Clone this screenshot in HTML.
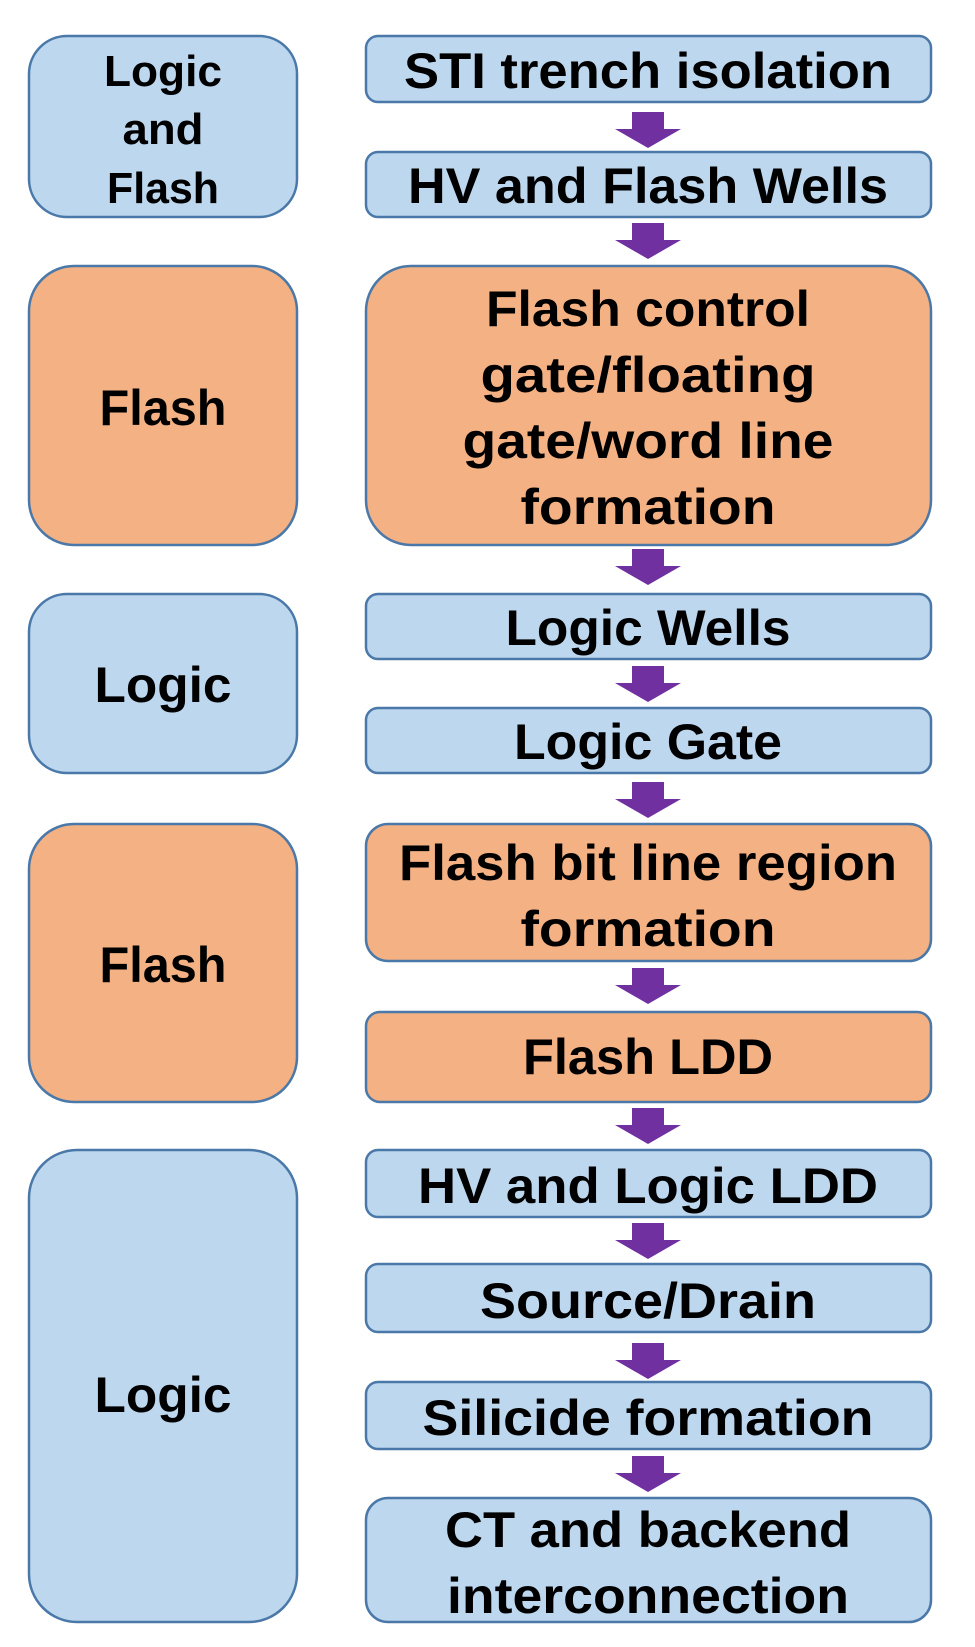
<!DOCTYPE html>
<html><head><meta charset="utf-8"><style>html,body{margin:0;padding:0;background:#fff}svg{display:block}text{font-family:"Liberation Sans",sans-serif;font-weight:bold;fill:#000;text-anchor:middle}</style></head>
<body>
<svg width="975" height="1647" viewBox="0 0 975 1647" xmlns="http://www.w3.org/2000/svg">
<defs>
<g id="arr"><path d="M-16,0 H16 V17 H33 L0,36 L-33,17 H-16 Z" fill="#7030a0"/></g>
</defs>
<g stroke="#4a78a8" stroke-width="2.5">
<rect x="29" y="36" width="268" height="181" rx="38" fill="#bdd7ee"/>
<rect x="29" y="266" width="268" height="279" rx="45" fill="#f4b183"/>
<rect x="29" y="594" width="268" height="179" rx="38" fill="#bdd7ee"/>
<rect x="29" y="824" width="268" height="278" rx="45" fill="#f4b183"/>
<rect x="29" y="1150" width="268" height="472" rx="48" fill="#bdd7ee"/>
<rect x="366" y="36" width="565" height="66" rx="12" fill="#bdd7ee"/>
<rect x="366" y="152" width="565" height="65" rx="12" fill="#bdd7ee"/>
<rect x="366" y="266" width="565" height="279" rx="45" fill="#f4b183"/>
<rect x="366" y="594" width="565" height="65" rx="12" fill="#bdd7ee"/>
<rect x="366" y="708" width="565" height="65" rx="12" fill="#bdd7ee"/>
<rect x="366" y="824" width="565" height="137" rx="22" fill="#f4b183"/>
<rect x="366" y="1012" width="565" height="90" rx="14" fill="#f4b183"/>
<rect x="366" y="1150" width="565" height="67" rx="12" fill="#bdd7ee"/>
<rect x="366" y="1264" width="565" height="68" rx="12" fill="#bdd7ee"/>
<rect x="366" y="1382" width="565" height="67" rx="12" fill="#bdd7ee"/>
<rect x="366" y="1498" width="565" height="124" rx="22" fill="#bdd7ee"/>
</g>
<use href="#arr" x="648" y="112"/>
<use href="#arr" x="648" y="223"/>
<use href="#arr" x="648" y="549"/>
<use href="#arr" x="648" y="666"/>
<use href="#arr" x="648" y="782"/>
<use href="#arr" x="648" y="968"/>
<use href="#arr" x="648" y="1108"/>
<use href="#arr" x="648" y="1223"/>
<use href="#arr" x="648" y="1343"/>
<use href="#arr" x="648" y="1456"/>
<g font-size="44">
<text x="163" y="86" textLength="118" lengthAdjust="spacingAndGlyphs">Logic</text>
<text x="163" y="144" textLength="81" lengthAdjust="spacingAndGlyphs">and</text>
<text x="163" y="203" textLength="112" lengthAdjust="spacingAndGlyphs">Flash</text>
</g>
<g font-size="50">
<text x="163" y="425" textLength="127" lengthAdjust="spacingAndGlyphs">Flash</text>
<text x="163" y="702" textLength="137" lengthAdjust="spacingAndGlyphs">Logic</text>
<text x="163" y="982" textLength="127" lengthAdjust="spacingAndGlyphs">Flash</text>
<text x="163" y="1412" textLength="137" lengthAdjust="spacingAndGlyphs">Logic</text>
</g>
<g font-size="50">
<text x="648" y="88" textLength="488" lengthAdjust="spacingAndGlyphs">STI trench isolation</text>
<text x="648" y="203" textLength="480" lengthAdjust="spacingAndGlyphs">HV and Flash Wells</text>
<text x="648" y="326" textLength="324" lengthAdjust="spacingAndGlyphs">Flash control</text>
<text x="648" y="392" textLength="335" lengthAdjust="spacingAndGlyphs">gate/floating</text>
<text x="648" y="458" textLength="371" lengthAdjust="spacingAndGlyphs">gate/word line</text>
<text x="648" y="524" textLength="255" lengthAdjust="spacingAndGlyphs">formation</text>
<text x="648" y="645" textLength="285" lengthAdjust="spacingAndGlyphs">Logic Wells</text>
<text x="648" y="759" textLength="268" lengthAdjust="spacingAndGlyphs">Logic Gate</text>
<text x="648" y="880" textLength="498" lengthAdjust="spacingAndGlyphs">Flash bit line region</text>
<text x="648" y="946" textLength="255" lengthAdjust="spacingAndGlyphs">formation</text>
<text x="648" y="1074" textLength="250" lengthAdjust="spacingAndGlyphs">Flash LDD</text>
<text x="648" y="1203" textLength="460" lengthAdjust="spacingAndGlyphs">HV and Logic LDD</text>
<text x="648" y="1318" textLength="336" lengthAdjust="spacingAndGlyphs">Source/Drain</text>
<text x="648" y="1435" textLength="451" lengthAdjust="spacingAndGlyphs">Silicide formation</text>
<text x="648" y="1547" textLength="406" lengthAdjust="spacingAndGlyphs">CT and backend</text>
<text x="648" y="1613" textLength="402" lengthAdjust="spacingAndGlyphs">interconnection</text>
</g>
</svg>
</body></html>
